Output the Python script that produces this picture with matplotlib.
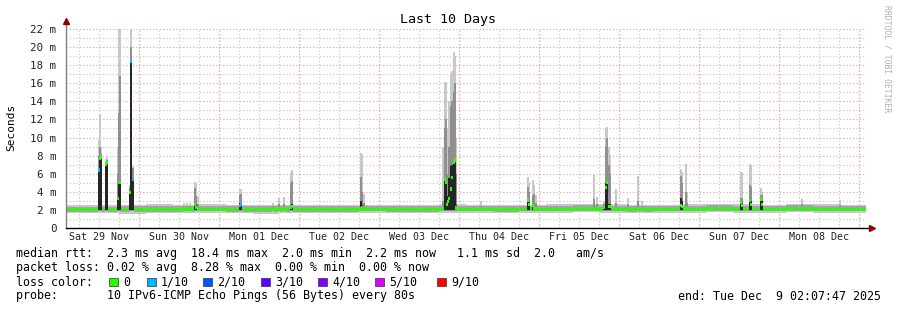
import datetime as dt
import matplotlib
matplotlib.use("Agg")
import matplotlib.pyplot as plt
import matplotlib.dates as mdates
from matplotlib.patches import Rectangle

# ---------------- data ----------------
START = dt.datetime(2025, 11, 29, 2, 7, 47)
END = dt.datetime(2025, 12, 9, 2, 7, 47)

# baseline (8 h blocks), values in ms
base_step_h = 8
base_median = [2.05, 2.05, 2.10, 2.10, 2.10, 2.15, 2.10, 2.10, 2.10, 2.10,
               2.10, 2.15, 2.10, 2.10, 2.15, 2.15, 2.10, 2.15, 2.15, 2.20,
               2.15, 2.10, 2.15, 2.15, 2.20, 2.15, 2.15, 2.20, 2.15, 2.15]
base_light_lo = [1.65, 1.65, 1.60, 1.65, 1.65, 1.70, 1.65, 1.60, 1.65, 1.65,
                 1.65, 1.70, 1.65, 1.65, 1.70, 1.70, 1.65, 1.70, 1.70, 1.75,
                 1.70, 1.65, 1.70, 1.70, 1.75, 1.70, 1.70, 1.75, 1.70, 1.70]
base_light_hi = [2.55, 2.50, 2.55, 2.60, 2.55, 2.60, 2.55, 2.50, 2.55, 2.55,
                 2.50, 2.55, 2.50, 2.55, 2.60, 2.55, 2.50, 2.55, 2.60, 2.65,
                 2.60, 2.55, 2.55, 2.60, 2.65, 2.60, 2.55, 2.60, 2.60, 2.55]
base_mid_lo = [1.80, 1.80, 1.80, 1.80, 1.80, 1.85, 1.80, 1.80, 1.80, 1.80,
               1.80, 1.85, 1.80, 1.80, 1.85, 1.85, 1.80, 1.85, 1.85, 1.90,
               1.85, 1.80, 1.85, 1.85, 1.90, 1.85, 1.85, 1.90, 1.85, 1.85]
base_mid_hi = [2.35, 2.35, 2.40, 2.40, 2.40, 2.45, 2.40, 2.40, 2.40, 2.40,
               2.40, 2.45, 2.40, 2.40, 2.45, 2.45, 2.40, 2.45, 2.45, 2.50,
               2.45, 2.40, 2.45, 2.45, 2.50, 2.45, 2.45, 2.50, 2.45, 2.45]

# individual spike columns (hours after start), values in ms
spike_hours = [9.6, 9.9, 10.2, 11.7, 12.0, 15.3, 15.6, 15.9, 18.9, 19.2, 19.8,
               35.1, 36.0, 36.9, 38.4, 38.7, 39.3,
               51.9, 52.2, 61.8, 63.6, 65.1, 67.2, 67.5,
               88.2, 88.5, 89.1,
               112.8, 113.4, 113.7, 114.0, 114.3, 114.6, 115.2, 115.5, 116.1, 116.4, 116.7,
               124.2, 138.3, 138.6, 139.8, 140.1, 140.7,
               158.1, 159.0, 161.1, 161.7, 162.0, 162.6, 162.9, 164.7, 168.3, 171.3, 172.5,
               184.2, 184.5, 185.7, 186.0,
               202.2, 202.5, 204.9, 205.2, 208.2, 208.5,
               220.5, 231.9]
spike_median = [6.4, 7.7, 7.8, 7.0, 7.3, 3.3, 5.0, 5.0, 3.9, 18.4, 5.4,
                2.1, 2.1, 2.1, 2.6, 2.3, 2.1,
                2.5, 2.6, 2.1, 2.1, 2.1, 2.3, 2.4,
                2.1, 2.2, 2.1,
                2.1, 5.4, 5.0, 2.6, 2.9, 3.3, 4.3, 5.6, 7.3, 7.5, 2.2,
                2.1, 3.1, 2.6, 2.5, 2.2, 2.1,
                2.1, 2.1, 2.3, 4.5, 5.0, 2.4, 2.4, 2.1, 2.1, 2.1, 2.1,
                2.5, 2.4, 2.2, 2.1,
                2.8, 2.5, 3.0, 2.6, 3.2, 2.6,
                2.1, 2.1]
spike_dark = [6.4, 7.7, 7.8, 7.0, 7.3, 3.3, 5.0, 5.1, 3.9, 18.4, 5.4,
              2.1, 2.1, 2.1, 2.8, 2.5, 2.1,
              2.8, 2.8, 2.1, 2.1, 2.1, 2.4, 2.6,
              3.0, 2.5, 2.1,
              2.1, 5.5, 5.2, 3.0, 3.5, 5.5, 6.8, 7.0, 7.5, 7.6, 2.5,
              2.1, 3.1, 2.9, 2.7, 2.4, 2.1,
              2.1, 2.1, 2.4, 5.0, 5.1, 2.7, 2.6, 2.1, 2.1, 2.1, 2.1,
              3.3, 3.0, 2.4, 2.1,
              2.8, 2.8, 3.1, 3.0, 3.2, 3.0,
              2.1, 2.1]
spike_mid = [8.0, 9.0, 8.2, 7.2, 7.5, 6.0, 12.7, 16.8, 4.5, 20.0, 6.6,
             2.4, 2.4, 2.4, 4.4, 3.5, 2.6,
             3.6, 3.8, 2.4, 2.6, 2.6, 5.0, 5.2,
             5.6, 4.0, 2.8,
             3.0, 11.0, 12.0, 5.0, 6.0, 9.0, 13.5, 14.0, 15.0, 16.0, 6.0,
             2.4, 4.5, 4.0, 3.5, 3.8, 2.8,
             3.2, 2.6, 2.6, 9.0, 10.0, 7.0, 6.0, 2.8, 2.6, 3.0, 2.4,
             5.7, 5.0, 4.0, 2.8,
             3.3, 3.3, 4.7, 4.5, 3.7, 3.6,
             2.6, 2.5]
spike_max = [9.7, 12.6, 9.0, 7.6, 7.8, 9.0, 22.0, 22.0, 4.8, 22.0, 6.9,
             2.8, 2.8, 2.8, 5.1, 4.9, 3.5,
             4.3, 4.3, 2.8, 3.3, 3.4, 6.2, 6.4,
             8.3, 8.2, 3.8,
             8.9, 16.1, 16.1, 9.0, 11.0, 14.0, 17.1, 17.3, 19.5, 19.0, 10.0,
             3.0, 5.6, 5.0, 5.3, 4.7, 3.7,
             5.9, 3.4, 3.0, 11.0, 11.2, 9.0, 8.1, 4.3, 3.3, 5.7, 3.0,
             6.5, 6.2, 7.1, 4.0,
             6.2, 6.2, 7.1, 7.0, 4.4, 4.0,
             3.2, 3.1]
spike_loss = [1, 0, 0, 0, 0, 0, 0, 0, 0, 1, 1,
              0, 0, 0, 0, 0, 0,
              1, 1, 0, 0, 0, 0, 0,
              0, 0, 0,
              0, 0, 0, 0, 0, 0, 0, 0, 0, 0, 0,
              0, 0, 0, 0, 0, 0,
              0, 0, 0, 0, 0, 0, 0, 0, 0, 0, 0,
              0, 0, 0, 0,
              0, 0, 0, 0, 0, 0,
              0, 0]

loss_labels = ["0", "1/10", "2/10", "3/10", "4/10", "5/10", "9/10"]
loss_colors = ["#26ff00", "#00b8ff", "#0059ff", "#5e00ff", "#7e00ff", "#dd00ff", "#ff0000"]
y_ticks = [0, 2, 4, 6, 8, 10, 12, 14, 16, 18, 20, 22]

legend_rows = [
    "median rtt:  2.3 ms avg  18.4 ms max  2.0 ms min  2.2 ms now   1.1 ms sd  2.0   am/s",
    "packet loss: 0.02 % avg  8.28 % max  0.00 % min  0.00 % now",
]
probe_text = "probe:       10 IPv6-ICMP Echo Pings (56 Bytes) every 80s"
end_text = "end: Tue Dec  9 02:07:47 2025"

# ---------------- figure ----------------
W, H = 897, 310
plt.rcParams["font.family"] = ["DejaVu Sans Mono"]
fig = plt.figure(figsize=(W / 100, H / 100), dpi=100)
fig.patch.set_facecolor("white")

def fx(px):
    return px / W

def fy(py):
    return 1 - py / H

ax = fig.add_axes([fx(66), fy(228), 800 / W, 199.1 / H])
ax.set_facecolor("white")

LIGHT = "#c8c8c8"
MID = "#909090"
DARK = "#262626"
col_w = 0.6 / 24.0

# baseline smoke
bt = [START + dt.timedelta(hours=base_step_h * i) for i in range(len(base_median))] + [END]
ext = lambda a: list(a) + [a[-1]]
ax.fill_between(bt, ext(base_light_lo), ext(base_light_hi), step="post", color=LIGHT, lw=0, zorder=2)
ax.fill_between(bt, ext(base_mid_lo), ext(base_mid_hi), step="post", color="#a4a4a4", lw=0, zorder=2)
ax.step(bt, ext(base_median), where="post", color=loss_colors[0], lw=1.8, zorder=3)

# spikes, drawn layer by layer
times = [START + dt.timedelta(hours=h) for h in spike_hours]
kw = dict(width=col_w, align="edge", lw=0, antialiased=False)
ax.bar(times, [m - 1.8 for m in spike_max], bottom=1.8, color=LIGHT, zorder=4, **kw)
ax.bar(times, [m - 1.9 for m in spike_mid], bottom=1.9, color=MID, zorder=4.5, **kw)
dsel = [(t, d) for t, d in zip(times, spike_dark) if d > 2.15]
ax.bar([t for t, _ in dsel], [d - 1.95 for _, d in dsel], bottom=1.95, color=DARK, zorder=5, **kw)
ax.bar(times, [0.36] * len(times), bottom=[m - 0.18 for m in spike_median],
       color=[loss_colors[l] for l in spike_loss], zorder=6, **kw)

ax.set_xlim(START, END)
ax.set_ylim(0, 22)

# grids
ax.yaxis.set_major_locator(matplotlib.ticker.FixedLocator(y_ticks))
ax.yaxis.set_minor_locator(matplotlib.ticker.MultipleLocator(1))
ax.set_yticklabels([("%d m" % v) if v else "0" for v in y_ticks])
ax.xaxis.set_major_locator(mdates.HourLocator(byhour=[12]))
ax.xaxis.set_minor_locator(mdates.HourLocator(byhour=[0, 6, 12, 18]))
ax.xaxis.remove_overlapping_locs = False
ax.xaxis.set_major_formatter(mdates.DateFormatter("%a %d %b"))

dots = (0, (1, 2))
ax.grid(False)
ax.yaxis.grid(True, which="minor", color="#c4c4c4", lw=0.8, ls=dots, zorder=1)
ax.yaxis.grid(True, which="major", color="#f09a9a", lw=0.8, ls=dots, zorder=1)
ax.xaxis.grid(True, which="minor", color="#c4c4c4", lw=0.8, ls=dots, zorder=1)
for d in mdates.DayLocator().tick_values(START, END):
    if mdates.date2num(START) < d < mdates.date2num(END):
        ax.axvline(mdates.num2date(d).replace(tzinfo=None), color="#f09a9a", lw=0.8, ls=dots, zorder=1)
ax.set_axisbelow(True)

ax.tick_params(axis="both", which="both", length=0)
ax.tick_params(axis="y", labelsize=7.8, pad=7, colors="#222222")
ax.tick_params(axis="x", labelsize=7.2, pad=3, colors="#222222")

for s in ["top", "right", "left", "bottom"]:
    ax.spines[s].set_visible(False)

# axis lines and arrows
ax.plot([0, 0], [0, 1 + 7 / 199.1], transform=ax.transAxes, color="#808080", lw=1.0, clip_on=False, zorder=10)
ax.plot([0, 1 + 4 / 800], [0, 0], transform=ax.transAxes, color="black", lw=1.0, clip_on=False, zorder=10)
ax.plot([0], [1 + 8 / 199.1], marker="^", ms=4, color="#900000", transform=ax.transAxes, clip_on=False, zorder=11)
ax.plot([1 + 6 / 800], [0], marker=">", ms=4, color="#900000", transform=ax.transAxes, clip_on=False, zorder=11)

# texts
fig.text(fx(448), fy(19), "Last 10 Days", ha="center", va="center", fontsize=9.6, color="black")
fig.text(fx(11), fy(127), "Seconds", rotation=90, ha="center", va="center", fontsize=8.0, color="black")
fig.text(fx(887), fy(5), "RRDTOOL / TOBI OETIKER", rotation=270, ha="center", va="top", fontsize=5.8, color="#b0b0b0")

LFS = 8.4
fig.text(fx(16), fy(254), legend_rows[0], ha="left", va="center", fontsize=LFS)
fig.text(fx(16), fy(268), legend_rows[1], ha="left", va="center", fontsize=LFS)
fig.text(fx(16), fy(282), "loss color:", ha="left", va="center", fontsize=LFS)
box_x = [109, 147, 203, 261, 318, 375, 437]
for bx, lab, c in zip(box_x, loss_labels, loss_colors):
    fig.patches.append(Rectangle((fx(bx), fy(286)), 8.5 / W, 8.5 / H, transform=fig.transFigure,
                                 facecolor=c, edgecolor="#303030", lw=0.5))
    fig.text(fx(bx + 14), fy(282), lab, ha="left", va="center", fontsize=LFS)
fig.text(fx(16), fy(296), probe_text, ha="left", va="center", fontsize=LFS)
fig.text(fx(881), fy(296), end_text, ha="right", va="center", fontsize=LFS)

fig.savefig("out.png", dpi=100, facecolor="white")
